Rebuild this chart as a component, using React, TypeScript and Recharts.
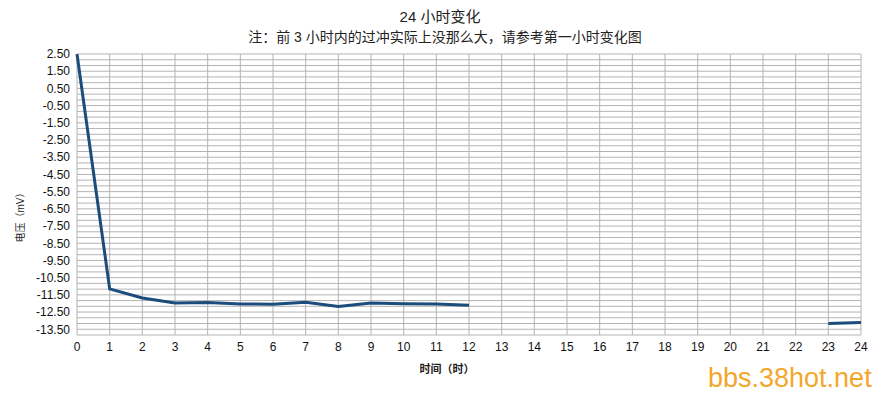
import { LineChart, Line, XAxis, YAxis, CartesianGrid } from 'recharts';

const hours = [0, 1, 2, 3, 4, 5, 6, 7, 8, 9, 10, 11, 12, 13, 14, 15, 16, 17, 18, 19, 20, 21, 22, 23, 24];
const voltage: (number | null)[] = [
  2.5, -11.15, -11.68, -11.97, -11.94, -12.03, -12.04, -11.93, -12.17, -11.98, -12.01, -12.03, -12.1,
  null, null, null, null, null, null, null, null, null, null,
  -13.16, -13.1,
];
const yTicks = [2.5, 1.5, 0.5, -0.5, -1.5, -2.5, -3.5, -4.5, -5.5, -6.5, -7.5, -8.5, -9.5, -10.5, -11.5, -12.5, -13.5];

const Y_MAX = 2.5;
const Y_MIN = -13.5 - 1 / 3;

const data = hours.map((h, i) => ({ hour: h, v: voltage[i] }));

// minor grid every 1/3 mV like the original sheet
const gridLines: number[] = [];
for (let k = 0; k <= 49; k++) gridLines.push(Y_MAX - k / 3);

const font = '"Liberation Sans", Arial, sans-serif';
const cjk = '"Liberation Sans", "Noto Sans CJK SC", sans-serif';

export default function App() {
  return (
    <div style={{ position: 'absolute', left: 0, top: 0, width: 880, height: 393, background: '#fff' }}>
      <div style={{ position: 'absolute', left: 0, width: 880, top: 7, textAlign: 'center', fontFamily: cjk, fontSize: 15, color: '#222', lineHeight: '20px' }}>
        <span style={{ marginLeft: 0 }}>24 小时变化</span>
      </div>
      <div style={{ position: 'absolute', left: 0, width: 890, top: 28, textAlign: 'center', fontFamily: cjk, fontSize: 14, color: '#222', lineHeight: '18px' }}>
        注：前 3 小时内的过冲实际上没那么大，请参考第一小时变化图
      </div>
      <LineChart
        width={880}
        height={393}
        data={data}
        margin={{ top: 54, right: 19, left: 0, bottom: 38 }}
      >
        <CartesianGrid
          stroke="#b4b4b4"
          horizontalValues={gridLines}
          verticalValues={hours}
        />
        <XAxis
          dataKey="hour"
          type="number"
          domain={[0, 24]}
          ticks={hours}
          interval={0}
          tickLine={false}
          axisLine={false}
          tickSize={0}
          tickMargin={7}
          height={20}
          tick={{ fill: '#111', fontSize: 12, fontFamily: font }}
        />
        <YAxis
          type="number"
          domain={[Y_MIN, Y_MAX]}
          ticks={yTicks}
          interval={0}
          allowDataOverflow
          tickFormatter={(v) => Number(v).toFixed(2)}
          tickLine={false}
          axisLine={false}
          tickSize={0}
          tickMargin={7}
          width={77}
          tick={{ fill: '#111', fontSize: 12, fontFamily: font }}
        />
        <Line
          type="linear"
          dataKey="v"
          stroke="#1a4c7c"
          strokeWidth={3}
          dot={false}
          connectNulls={false}
          isAnimationActive={false}
        />
      </LineChart>
      <div style={{ position: 'absolute', left: 19, top: 215, transform: 'translate(-50%, -50%) rotate(-90deg)', fontFamily: cjk, fontSize: 10, color: '#222', whiteSpace: 'nowrap' }}>
        电压（mV）
      </div>
      <div style={{ position: 'absolute', left: 447, top: 368, transform: 'translate(-50%, -50%)', fontFamily: cjk, fontSize: 11, fontWeight: 'bold', color: '#222', whiteSpace: 'nowrap' }}>
        时间（时）
      </div>
      <div style={{ position: 'absolute', left: 708, top: 362, fontFamily: font, fontSize: 27, color: '#f3a72a', lineHeight: '32px', whiteSpace: 'nowrap' }}>
        bbs.38hot.net
      </div>
    </div>
  );
}
